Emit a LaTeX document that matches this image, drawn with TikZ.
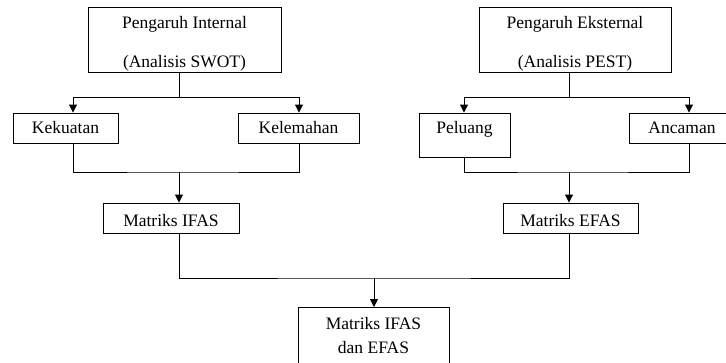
\documentclass[tikz,border=0pt]{standalone}
\usepackage{fontspec}
\setmainfont{Liberation Serif}
\usetikzlibrary{arrows.meta}
\begin{document}
\begin{tikzpicture}[x=1pt,y=-1pt,
  box/.style={draw, line width=0.9pt, inner sep=0pt, font=\fontsize{17.5}{21}\selectfont},
  sbox/.style={box, text height=20pt, text depth=10pt, anchor=base},
  mbox/.style={box, text height=23pt, text depth=7pt, anchor=base},
  tbox/.style={box, align=center, font=\fontsize{17.5}{39}\selectfont, text height=60pt, text depth=5pt, anchor=north},
  fbox/.style={box, align=center, font=\fontsize{17.5}{24}\selectfont, text height=46pt, text depth=15pt, anchor=north},
  conn/.style={line width=0.9pt},
  arr/.style={conn, -{Triangle[length=8pt,width=8pt]}}]
\useasboundingbox (0,0) rectangle (726,362);
\clip (0,0) rectangle (726,362);
\node[tbox, minimum width=193pt] (intl) at (184.5,7) {Pengaruh Internal\\(Analisis SWOT)};
\node[tbox, minimum width=192pt] (extl) at (575,7) {Pengaruh Eksternal\\(Analisis PEST)};
\node[sbox, minimum width=105pt] (kek) at (65.5,133) {Kekuatan};
\node[sbox, minimum width=121pt] (kel) at (298.5,133) {Kelemahan};
\node[sbox, minimum width=91pt, text depth=24pt] (pel) at (464.5,133) {Peluang};
\node[sbox, minimum width=106pt] (anc) at (682,133) {Ancaman};
\node[mbox, minimum width=136pt] (ifas) at (171,226) {Matriks IFAS};
\node[mbox, minimum width=135pt] (efas) at (570.5,226) {Matriks EFAS};
\node[fbox, minimum width=151pt] (fin) at (373.5,307) {Matriks IFAS\\dan EFAS};
\coordinate (jA) at (179,97);
\coordinate (jB) at (179,172);
\coordinate (jC) at (374,278);
\coordinate (jD) at (569,97);
\coordinate (jE) at (569,172);
\draw[conn] (intl.south -| jA) -- (jA);
\draw[arr] (jA) -| ([xshift=7.5pt]kek.north);
\draw[arr] (jA) -| ([xshift=0.5pt]kel.north);
\draw[conn] ([xshift=7.5pt]kek.south) |- (jB) -| ([xshift=0.5pt]kel.south);
\draw[arr] (jB) -- (ifas.north -| jB);
\draw[conn] (ifas.south -| jB) |- (jC) -| (efas.south -| jE);
\draw[arr] (jC) -- (fin.north -| jC);
\draw[conn] (extl.south -| jD) -- (jD);
\draw[arr] (jD) -| ([xshift=-0.5pt]pel.north);
\draw[arr] (jD) -| ([xshift=7pt]anc.north);
\draw[conn] ([xshift=-0.5pt]pel.south) |- (jE) -| ([xshift=7pt]anc.south);
\draw[arr] (jE) -- (efas.north -| jE);
\end{tikzpicture}
\end{document}
